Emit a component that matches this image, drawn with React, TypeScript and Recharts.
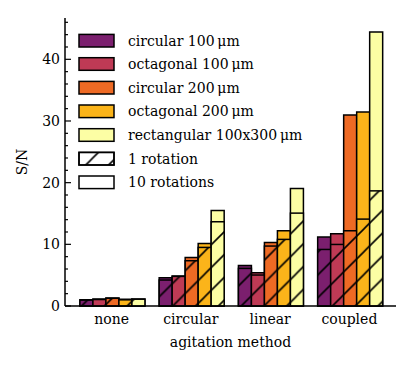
import { ComposedChart, Bar, XAxis, YAxis } from "recharts"

// inferno-ish palette, one per aperture
const COLORS = ["#7b1f6e", "#bf3a55", "#ee6a24", "#fbb41a", "#fcfea4"]
const FONT = "DejaVu Serif"
const FS = 14

const CATEGORIES = ["none", "circular", "linear", "coupled"]
const SERIES_NAMES = [
  "circular 100\u2009μm",
  "octagonal 100\u2009μm",
  "circular 200\u2009μm",
  "octagonal 200\u2009μm",
  "rectangular 100x300\u2009μm",
]

// S/N after 10 rotations (full bar height)
const TEN_CIRC100 = [1.0, 4.58, 6.58, 11.17]
const TEN_OCT100 = [1.12, 4.86, 5.4, 11.7]
const TEN_CIRC200 = [1.3, 7.88, 10.3, 30.98]
const TEN_OCT200 = [1.1, 10.15, 12.2, 31.47]
const TEN_RECT = [1.15, 15.5, 19.05, 44.42]

// S/N after 1 rotation (hatched part)
const ONE_CIRC100 = [0.95, 4.21, 6.1, 9.17]
const ONE_OCT100 = [1.05, 4.8, 5.02, 9.98]
const ONE_CIRC200 = [1.25, 7.34, 9.72, 12.2]
const ONE_OCT200 = [1.0, 9.5, 10.8, 14.09]
const ONE_RECT = [1.1, 13.66, 15.06, 18.67]

const Y_DOMAIN = [0, 46.7]
const Y_TICKS = [0, 2, 4, 6, 8, 10, 12, 14, 16, 18, 20, 22, 24, 26, 28, 30, 32, 34, 36, 38, 40, 42, 44, 46]

const TEN_ROTATIONS = [TEN_CIRC100, TEN_OCT100, TEN_CIRC200, TEN_OCT200, TEN_RECT]
const ONE_ROTATIONS = [ONE_CIRC100, ONE_OCT100, ONE_CIRC200, ONE_OCT200, ONE_RECT]

const chartData = CATEGORIES.map((cat, i) => {
  const row: Record<string, string | number> = { cat }
  TEN_ROTATIONS.forEach((s, k) => { row[`ten${k}`] = s[i] })
  ONE_ROTATIONS.forEach((s, k) => { row[`one${k}`] = s[i] })
  return row
})

const HATCH = 22.8

function HatchDef({ id }: { id: string }) {
  const w = HATCH
  return (
    <pattern id={id} patternUnits="userSpaceOnUse" width={w} height={w}>
      <path
        d={`M0,${w} L${w},0 M${-w / 4},${w / 4} L${w / 4},${-w / 4} M${(3 * w) / 4},${(5 * w) / 4} L${(5 * w) / 4},${(3 * w) / 4}`}
        stroke="#000"
        strokeWidth={1.6}
      />
    </pattern>
  )
}

function HatchedBar(props: any) {
  const { x, y, width, height, fill } = props
  if (!height) return null
  return (
    <g>
      <rect x={x} y={y} width={width} height={height} fill={fill} />
      <rect x={x} y={y} width={width} height={height} fill="url(#hatch)" stroke="#000" strokeWidth={1.5} />
    </g>
  )
}

function LeftTick(props: any) {
  const { x, y, payload } = props
  const major = payload.value % 10 === 0
  const ax = x + 5
  return (
    <g>
      <line x1={ax} x2={ax + (major ? 6 : 3)} y1={y} y2={y} stroke="#000" strokeWidth={1.2} />
      {major && (
        <text x={x} y={y} dy="0.36em" textAnchor="end" fontFamily={FONT} fontSize={FS} fill="#000">
          {payload.value}
        </text>
      )}
    </g>
  )
}

function RightTick(props: any) {
  const { x, y, payload } = props
  const major = payload.value % 10 === 0
  return <line x1={x} x2={x - (major ? 6 : 3)} y1={y} y2={y} stroke="#000" strokeWidth={1.2} />
}

function YLabel(props: any) {
  const { viewBox } = props
  const cx = viewBox.x + 22
  const cy = viewBox.y + viewBox.height / 2
  return (
    <text
      x={cx}
      y={cy}
      transform={`rotate(-90 ${cx} ${cy})`}
      textAnchor="middle"
      dy="0.36em"
      fontFamily={FONT}
      fontSize={FS}
      fill="#000"
    >
      S/N
    </text>
  )
}

const LEGEND_ROWS = [40.7, 64, 87.7, 111.3, 135, 158.7, 182.3]

function LegendOverlay() {
  const items = [
    ...SERIES_NAMES.map((name, k) => ({ name, fill: COLORS[k], hatch: false })),
    { name: "1 rotation", fill: "#fff", hatch: true },
    { name: "10 rotations", fill: "#fff", hatch: false },
  ]
  return (
    <svg width={415} height={368} style={{ position: "absolute", left: 0, top: 0, pointerEvents: "none" }}>
      <defs>
        <HatchDef id="hatchLegend" />
      </defs>
      {items.map((it, i) => {
        const cy = LEGEND_ROWS[i]
        return (
          <g key={it.name}>
            <rect x={79} y={cy - 6.3} width={35} height={12.6} fill={it.fill} stroke="#000" strokeWidth={1.5} />
            {it.hatch && (
              <rect x={79} y={cy - 6.3} width={35} height={12.6} fill="url(#hatchLegend)" stroke="#000" strokeWidth={1.5} />
            )}
            <text x={128} y={cy + 5.1} fontFamily={FONT} fontSize={FS} fill="#000">
              {it.name}
            </text>
          </g>
        )
      })}
    </svg>
  )
}

export default function App() {
  return (
    <div style={{ position: "absolute", left: 0, top: 0, width: 415, height: 368, background: "#fff" }}>
      <ComposedChart
        width={415}
        height={368}
        data={chartData}
        margin={{ top: 18, right: 19, bottom: 0, left: 0 }}
        barCategoryGap="10%"
        barGap={0}
      >
        <defs>
          <HatchDef id="hatch" />
        </defs>
        <XAxis
          xAxisId="bottom"
          dataKey="cat"
          height={62}
          padding={{ left: 7, right: 7 }}
          tickLine={false}
          tickSize={0}
          tickMargin={8}
          axisLine={{ stroke: "#000", strokeWidth: 1.5 }}
          tick={{ fontFamily: FONT, fontSize: FS, fill: "#000" }}
          label={{
            value: "agitation method",
            position: "insideBottom",
            offset: 21,
            fontFamily: FONT,
            fontSize: FS,
            fill: "#000",
          }}
        />
        <XAxis
          xAxisId="top"
          dataKey="cat"
          orientation="top"
          height={0}
          padding={{ left: 7, right: 7 }}
          tick={false}
          tickLine={false}
          axisLine={{ stroke: "#000", strokeWidth: 1.5 }}
        />
        <YAxis
          yAxisId="left"
          width={65}
          domain={Y_DOMAIN}
          ticks={Y_TICKS}
          interval={0}
          tickLine={false}
          tickSize={0}
          tickMargin={5}
          tick={<LeftTick />}
          axisLine={{ stroke: "#000", strokeWidth: 1.5 }}
          label={<YLabel />}
        />
        <YAxis
          yAxisId="right"
          orientation="right"
          width={0}
          domain={Y_DOMAIN}
          ticks={Y_TICKS}
          interval={0}
          tickLine={false}
          tickSize={0}
          tickMargin={0}
          tick={<RightTick />}
          axisLine={{ stroke: "#000", strokeWidth: 1.5 }}
        />
        {TEN_ROTATIONS.map((_, k) => (
          <Bar
            key={`ten${k}`}
            dataKey={`ten${k}`}
            xAxisId="bottom"
            yAxisId="left"
            fill={COLORS[k]}
            stroke="#000"
            strokeWidth={1.5}
            isAnimationActive={false}
          />
        ))}
        {ONE_ROTATIONS.map((_, k) => (
          <Bar
            key={`one${k}`}
            dataKey={`one${k}`}
            xAxisId="top"
            yAxisId="left"
            fill={COLORS[k]}
            shape={<HatchedBar />}
            isAnimationActive={false}
          />
        ))}
      </ComposedChart>
      <LegendOverlay />
    </div>
  )
}
